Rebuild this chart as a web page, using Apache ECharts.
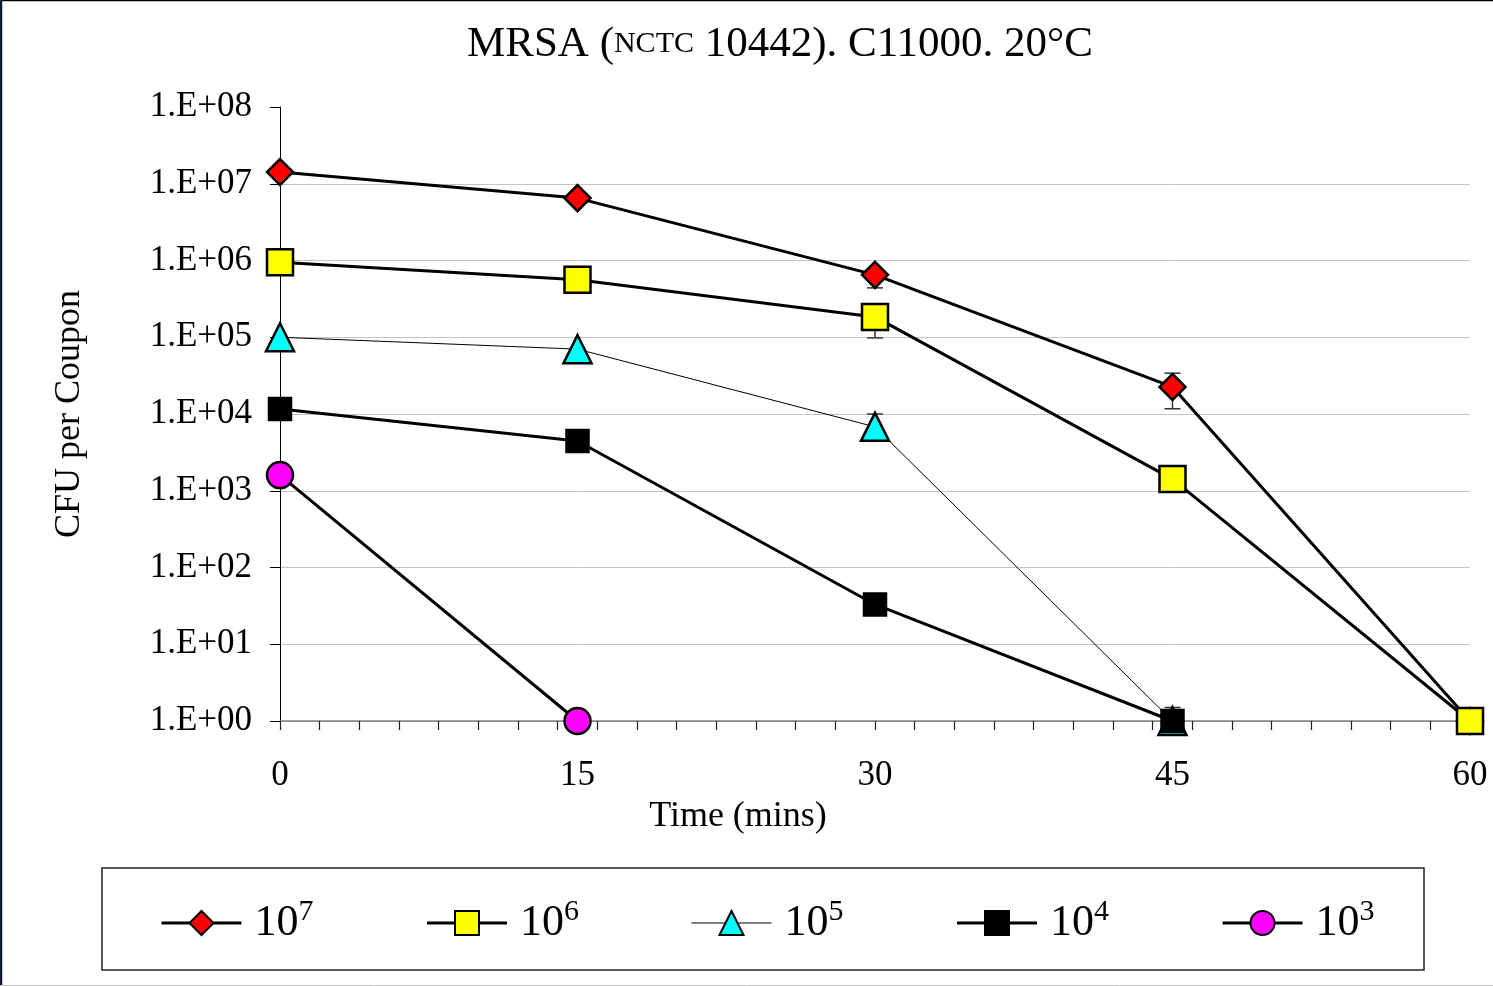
<!DOCTYPE html>
<html>
<head>
<meta charset="utf-8">
<title>MRSA C11000 20C</title>
<script src="https://cdn.jsdelivr.net/npm/echarts@6/dist/echarts.min.js"></script>
<style>
    html, body { margin: 0; padding: 0; background: #fff; }
    #chart { width: 1493px; height: 986px; }
</style>
</head>
<body>
<div id="chart"></div>
<script>
    // time points (mins)
    var times = [0, 15, 30, 45, 60];

    // CFU per coupon
    var cfu7 = [1.42e7, 6.5e6, 6.5e5, 2.25e4, 1];
    var cfu6 = [9.5e5, 5.6e5, 1.84e5, 1.42e3, 1];
    var cfu5 = [1.0e5, 7.0e4, 6.8e3, 1];
    var cfu4 = [1.16e4, 4.45e3, 33, 1];
    var cfu3 = [1.6e3, 1];

    // error bars: [time, low, high]
    var errBars = [
        [30, 4.4e5, 7.4e5],
        [45, 1.17e4, 3.4e4],
        [30, 9.8e4, 2.3e5],
        [30, 5.0e3, 1.0e4],
        [45, 1, 1.5]
    ];

    var seriesNames = ['10^7', '10^6', '10^5', '10^4', '10^3'];
    var lineWidths = [3, 3, 1, 3, 3];
    var yTicks = ['1.E+00', '1.E+01', '1.E+02', '1.E+03', '1.E+04', '1.E+05', '1.E+06', '1.E+07', '1.E+08'];

    var FONT = '"Liberation Serif", "Times New Roman", serif';

    function pairs(vals) {
        var out = [];
        for (var i = 0; i < vals.length; i++) out.push([times[i], vals[i]]);
        return out;
    }

    function lineSeries(idx, vals, symbol, size, color) {
        return {
            name: seriesNames[idx],
            type: 'line',
            data: pairs(vals),
            symbol: symbol,
            symbolSize: size,
            z: 3,
            lineStyle: {color: '#000', width: lineWidths[idx]},
            itemStyle: {color: color, borderColor: '#000', borderWidth: 2.5},
            emphasis: {disabled: true}
        };
    }

    var chart = echarts.init(document.getElementById('chart'));

    var gridLineColors = [];
    for (var k = 0; k < yTicks.length - 1; k++) gridLineColors.push('#c4c4c4');
    gridLineColors.push('rgba(0,0,0,0)');

    var legendData = seriesNames.map(function (n, i) {
        return {name: n, lineStyle: {width: lineWidths[i], color: '#000'}};
    });

    chart.setOption({
        backgroundColor: '#fff',
        animation: false,
        title: {
            text: '{n|MRSA (}{sc|NCTC}{n| 10442). C11000. 20°C}',
            left: 462,
            top: 18,
            textStyle: {
                fontWeight: 'normal',
                rich: {
                    n: {fontFamily: FONT, fontSize: 43, fontWeight: 'normal', color: '#000'},
                    sc: {fontFamily: FONT, fontSize: 30, fontWeight: 'normal', color: '#000'}
                }
            }
        },
        grid: {left: 280, right: 23, top: 107, bottom: 265},
        xAxis: [{
            type: 'value',
            min: 0,
            max: 60,
            interval: 15,
            name: 'Time (mins)',
            nameLocation: 'middle',
            nameGap: 78,
            nameTextStyle: {fontFamily: FONT, fontSize: 36, color: '#000', padding: [0, 274, 0, 0]},
            axisLine: {lineStyle: {color: '#808080', width: 1.5}},
            axisTick: {show: false},
            splitLine: {show: false},
            axisLabel: {fontFamily: FONT, fontSize: 35, color: '#000', margin: 37}
        }, {
            // minor ticks every 2 minutes
            type: 'value',
            position: 'bottom',
            min: 0,
            max: 60,
            interval: 2,
            axisLine: {show: false},
            axisTick: {show: true, length: 9, lineStyle: {color: '#222', width: 1.2}},
            axisLabel: {show: false},
            splitLine: {show: false}
        }],
        yAxis: {
            type: 'log',
            logBase: 10,
            min: 1,
            max: 1e8,
            interval: 1,
            name: 'CFU per Coupon',
            nameLocation: 'middle',
            nameGap: 192,
            nameTextStyle: {fontFamily: FONT, fontSize: 36, color: '#000'},
            axisLine: {show: true, lineStyle: {color: '#000', width: 1}},
            axisTick: {show: true, length: 10, lineStyle: {color: '#000'}},
            splitLine: {show: true, lineStyle: {color: gridLineColors, width: 1}},
            axisLabel: {
                fontFamily: FONT, fontSize: 35, color: '#000', margin: 28,
                formatter: function (v) {
                    var e = Math.round(Math.log10(v));
                    return yTicks[e] || '';
                }
            }
        },
        legend: {
            left: 155,
            top: 892,
            itemWidth: 80,
            itemHeight: 30,
            itemGap: 112,
            selectedMode: false,
            data: legendData,
            formatter: function (name) {
                var p = name.split('^');
                return '{b|' + p[0] + '}{s|' + p[1] + '}';
            },
            textStyle: {
                padding: [0, 0, 0, 8],
                rich: {
                    b: {fontFamily: FONT, fontSize: 44, color: '#000', lineHeight: 52},
                    s: {fontFamily: FONT, fontSize: 30, color: '#000', verticalAlign: 'top', lineHeight: 44}
                }
            }
        },
        graphic: [
            {type: 'rect', shape: {x: 102, y: 868, width: 1322, height: 102}, style: {fill: 'none', stroke: '#222', lineWidth: 1.5}, silent: true},
            {type: 'line', shape: {x1: 0, y1: 0.5, x2: 1493, y2: 0.5}, style: {stroke: '#000', lineWidth: 1.5}, silent: true},
            {type: 'line', shape: {x1: 1, y1: 0, x2: 1, y2: 986}, style: {stroke: '#0c1a3a', lineWidth: 2.5}, silent: true},
            {type: 'line', shape: {x1: 0, y1: 985.5, x2: 1493, y2: 985.5}, style: {stroke: '#c8c8c8', lineWidth: 1}, silent: true}
        ],
        series: [
            {
                type: 'custom',
                name: 'err',
                z: 1,
                silent: true,
                data: errBars,
                renderItem: function (params, api) {
                    var lo = api.coord([api.value(0), api.value(1)]);
                    var hi = api.coord([api.value(0), api.value(2)]);
                    var cap = 8;
                    var st = {stroke: '#333', lineWidth: 1.5};
                    return {
                        type: 'group',
                        children: [
                            {type: 'line', shape: {x1: lo[0], y1: lo[1], x2: hi[0], y2: hi[1]}, style: st},
                            {type: 'line', shape: {x1: lo[0] - cap, y1: lo[1], x2: lo[0] + cap, y2: lo[1]}, style: st},
                            {type: 'line', shape: {x1: hi[0] - cap, y1: hi[1], x2: hi[0] + cap, y2: hi[1]}, style: st}
                        ]
                    };
                }
            },
            lineSeries(0, cfu7, 'diamond', 26, '#ff0000'),
            lineSeries(1, cfu6, 'rect', 26, '#ffff00'),
            lineSeries(2, cfu5, 'triangle', 28, '#00ffff'),
            lineSeries(3, cfu4, 'rect', 22, '#000000'),
            lineSeries(4, cfu3, 'circle', 26, '#ff00ff')
        ]
    });
</script>
</body>
</html>
